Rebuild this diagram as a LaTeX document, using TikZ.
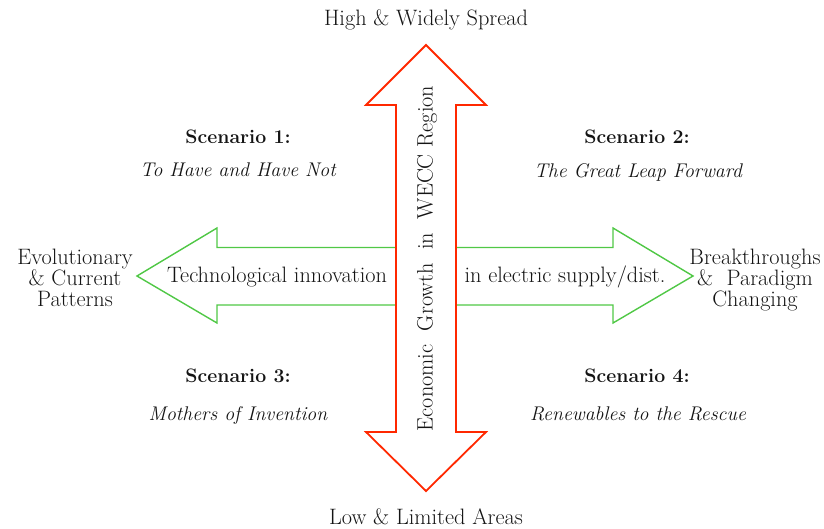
\documentclass[tikz,border=0pt]{standalone}
\definecolor{arrred}{RGB}{255,40,0}
\definecolor{arrgreen}{RGB}{80,200,70}
\definecolor{txt}{RGB}{20,20,20}
\tikzset{
  lbl/.style={inner sep=0pt, anchor=base, text=txt, font=\fontsize{22.3}{21}\selectfont},
  scen/.style={lbl, font=\fontsize{19.5}{21}\selectfont\bfseries},
  title/.style={lbl, font=\fontsize{19.8}{21}\selectfont\itshape},
  side/.style={lbl, align=center, anchor=north},
  redarrow/.style={draw=arrred, line width=1.8pt, fill=white, line join=miter},
  greenarrow/.style={draw=arrgreen, line width=1.4pt, fill=white, line join=miter}
}
\begin{document}
\begin{tikzpicture}[x=1pt,y=1pt]
\useasboundingbox (0,0) rectangle (824,528);
% green horizontal double arrow
\draw[greenarrow] (137,252) -- (217,300) -- (217,280.5) -- (613,280.5) -- (613,300)
  -- (693,252) -- (613,205) -- (613,223) -- (217,223) -- (217,205) -- cycle;
% red vertical double arrow
\draw[redarrow] (426,483) -- (486,423) -- (456,423) -- (456,96) -- (486,96)
  -- (426,37) -- (366,96) -- (396,96) -- (396,423) -- (366,423) -- cycle;
% texts
\node[lbl] (top) at (426,502) {High \& Widely Spread};
\node[lbl] (bottom) at (426,4) {Low \& Limited Areas};
\node[scen] (s1) at (238,384) {Scenario 1:};
\node[title] (t1) at (238,351) {To Have and Have Not};
\node[scen] (s2) at (637,384) {Scenario 2:};
\node[title] (t2) at (638,350) {The Great Leap Forward};
\node[scen] (s3) at (238,146) {Scenario 3:};
\node[title] (t3) at (238,108) {Mothers of Invention};
\node[scen] (s4) at (637,146) {Scenario 4:};
\node[title] (t4) at (638,108) {Renewables to the Rescue};
\node[lbl] (left) at (277,246) {Technological innovation};
\node[lbl] (right) at (565,246) {in electric supply/dist.};
\node[side] (evo) at (75,279) {Evolutionary\\\& Current\\Patterns};
\node[side] (brk) at (755,279) {Breakthroughs\\\&~ Paradigm\\Changing};
\node[lbl, anchor=center, rotate=90] (vert) at (427,269.5) {Economic~ Growth~ in~ WECC Region};
\end{tikzpicture}
\end{document}
